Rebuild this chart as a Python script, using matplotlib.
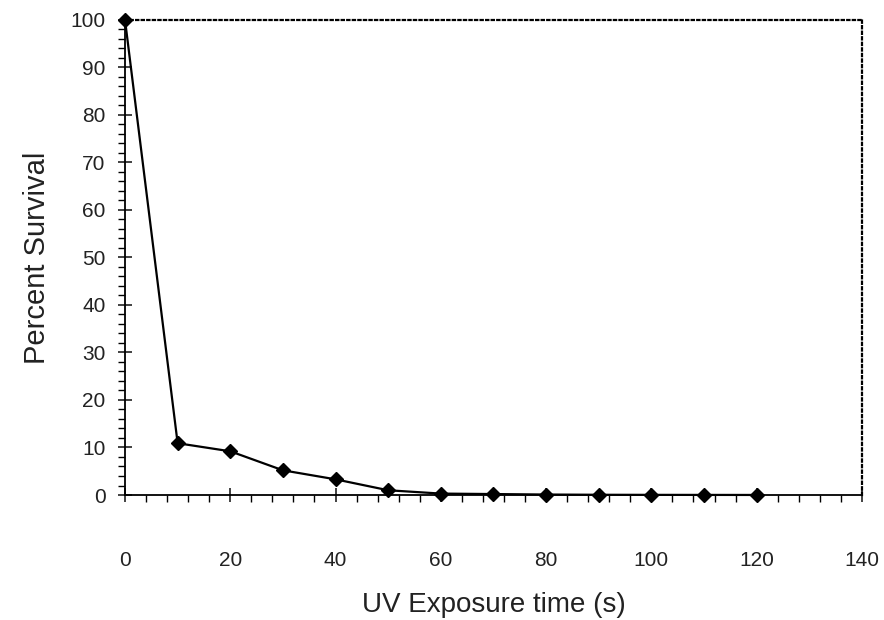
import numpy as np
import matplotlib
matplotlib.use("Agg")
import matplotlib.pyplot as plt
from matplotlib.ticker import MultipleLocator

# 数据
time_s = [0, 10, 20, 30, 40, 50, 60, 70, 80, 90, 100, 110, 120]
survival = [100, 10.9, 9.2, 5.2, 3.3, 1.0, 0.3, 0.2, 0.1, 0.05, 0.03, 0.02, 0.01]

plt.rcParams['font.family'] = ['Liberation Sans', 'DejaVu Sans']

fig = plt.figure(figsize=(8.84, 6.2), dpi=100)
ax = fig.add_axes([0.1414, 0.2016, 0.8336, 0.7664])

ax.plot(time_s, survival, color='black', lw=1.6, marker='D', ms=7,
        clip_on=False, zorder=5)

ax.set_xlim(0, 140)
ax.set_ylim(0, 100)
ax.xaxis.set_major_locator(MultipleLocator(20))
ax.xaxis.set_minor_locator(MultipleLocator(4))
ax.yaxis.set_major_locator(MultipleLocator(10))
ax.yaxis.set_minor_locator(MultipleLocator(2))

ax.tick_params(axis='x', which='major', direction='inout', length=10, width=1.2,
               pad=35, labelsize=15, colors='#222222')
ax.tick_params(axis='x', which='minor', direction='out', length=5, width=1)
ax.tick_params(axis='y', which='major', direction='inout', length=10, width=1.2,
               pad=9, labelsize=15, colors='#222222')
ax.tick_params(axis='y', which='minor', direction='out', length=5, width=1)

for s in ['left', 'bottom']:
    ax.spines[s].set_linewidth(1.3)
for s in ['top', 'right']:
    ax.spines[s].set_linestyle((0, (1, 1.5)))
    ax.spines[s].set_linewidth(1.6)

ax.set_xlabel('UV Exposure time (s)', fontsize=20, color='#222222', labelpad=16)
ax.set_ylabel('Percent Survival', fontsize=21, color='#222222', labelpad=14)

fig.savefig('out.png', dpi=100)
